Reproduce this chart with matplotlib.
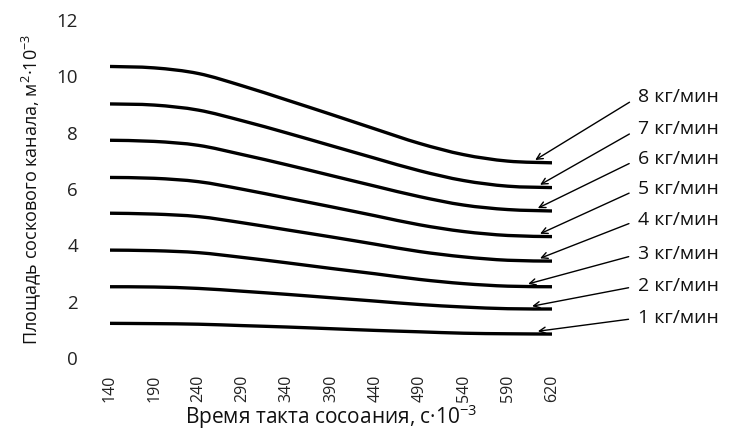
import matplotlib
matplotlib.use('Agg')
import matplotlib.pyplot as plt
from matplotlib.path import Path
from matplotlib.patches import PathPatch

plt.rcParams['font.family'] = ['Open Sans', 'DejaVu Sans']
plt.rcParams['mathtext.default'] = 'regular'

# ---- data ----
times = ['140', '190', '240', '290', '340', '390', '440', '490', '540', '590', '620']
flow_labels = ['1 кг/мин', '2 кг/мин', '3 кг/мин', '4 кг/мин',
               '5 кг/мин', '6 кг/мин', '7 кг/мин', '8 кг/мин']
area_1 = [1.23, 1.22, 1.20, 1.15, 1.10, 1.04, 0.98, 0.93, 0.88, 0.86, 0.85]
area_2 = [2.53, 2.52, 2.47, 2.37, 2.26, 2.14, 2.02, 1.90, 1.81, 1.75, 1.74]
area_3 = [3.83, 3.81, 3.74, 3.57, 3.38, 3.18, 2.99, 2.79, 2.64, 2.55, 2.53]
area_4 = [5.14, 5.11, 5.02, 4.80, 4.55, 4.30, 4.04, 3.78, 3.59, 3.47, 3.44]
area_5 = [6.41, 6.38, 6.26, 5.99, 5.68, 5.37, 5.05, 4.73, 4.49, 4.35, 4.31]
area_6 = [7.73, 7.69, 7.55, 7.22, 6.86, 6.48, 6.10, 5.73, 5.43, 5.27, 5.22]
area_7 = [9.02, 8.98, 8.80, 8.42, 7.99, 7.54, 7.09, 6.65, 6.30, 6.10, 6.05]
area_8 = [10.35, 10.30, 10.10, 9.66, 9.16, 8.65, 8.13, 7.62, 7.22, 6.99, 6.93]
series = [area_1, area_2, area_3, area_4, area_5, area_6, area_7, area_8]
y_ticks = [0, 2, 4, 6, 8, 10, 12]

# ---- layout / style (not data) ----
tip_x = [9.68, 9.55, 9.46, 9.73, 9.73, 9.68, 9.73, 9.62]
label_y = [1.42, 2.56, 3.69, 4.90, 6.00, 7.06, 8.13, 9.27]


def smooth_path(xs, ys):
    """Catmull-Rom style smoothing drawn as cubic Bezier segments."""
    n = len(xs)
    pts = list(zip(xs, ys))
    verts = [pts[0]]
    codes = [Path.MOVETO]
    for i in range(n - 1):
        p0 = pts[i - 1] if i > 0 else pts[i]
        p1 = pts[i]
        p2 = pts[i + 1]
        p3 = pts[i + 2] if i + 2 < n else pts[i + 1]
        c1 = (p1[0] + (p2[0] - p0[0]) / 6.0, p1[1] + (p2[1] - p0[1]) / 6.0)
        c2 = (p2[0] - (p3[0] - p1[0]) / 6.0, p2[1] - (p3[1] - p1[1]) / 6.0)
        verts += [c1, c2, p2]
        codes += [Path.CURVE4] * 3
    return verts, codes


fig = plt.figure(figsize=(7.3, 4.3), dpi=100)
ax = fig.add_axes([110 / 730, 1 - 358 / 430, 442 / 730, 338 / 430])

x = list(range(len(times)))
for vals in series:
    verts, codes = smooth_path(x, vals)
    ax.add_patch(PathPatch(Path(verts, codes), fill=False, lw=2.4,
                           edgecolor='black', capstyle='butt'))

ax.set_xlim(0, len(times) - 1)
ax.set_ylim(0, 12)
ax.set_xticks(x)
ax.set_xticklabels(times, rotation=90, fontsize=11.5, color='#222222')
ax.set_yticks(y_ticks)
ax.set_yticklabels([str(v) for v in y_ticks], fontsize=13.5, color='#222222')
ax.tick_params(axis='both', length=0)
ax.tick_params(axis='y', pad=23)
ax.tick_params(axis='x', pad=12)
for s in ax.spines.values():
    s.set_visible(False)

ax.set_ylabel('Площадь соскового канала, м$^{2}$·10$^{-3}$', fontsize=13,
              color='#111111', labelpad=10)
ax.set_xlabel('Время такта сосоания, с·10$^{-3}$', fontsize=15,
              color='#111111', labelpad=0)

for i, vals in enumerate(series):
    ax.annotate(flow_labels[i], xy=(tip_x[i], vals[-1] + 0.1),
                xytext=(11.95, label_y[i]), textcoords='data',
                ha='left', va='center', fontsize=14, color='#111111',
                annotation_clip=False,
                arrowprops=dict(arrowstyle='->', color='black', lw=1.0,
                                shrinkA=5, shrinkB=0, relpos=(0, 0.5),
                                mutation_scale=11))

fig.savefig('out.png', dpi=100)
